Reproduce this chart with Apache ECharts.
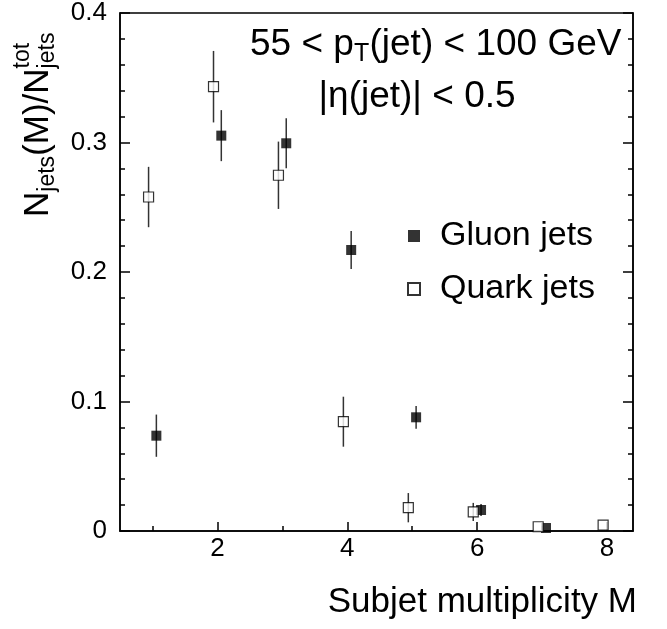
<!DOCTYPE html>
<html>
<head>
<meta charset="utf-8">
<script src="https://cdn.jsdelivr.net/npm/echarts@6/dist/echarts.min.js"></script>
<style>
html,body{margin:0;padding:0;background:#fff;}
#chart{width:667px;height:629px;}
</style>
</head>
<body>
<div id="chart"></div>
<script>
// ---- data ----
const gluonM   = [1, 2, 3, 4, 5, 6, 7];
const gluonVal = [0.0736, 0.3053, 0.2994, 0.2170, 0.0878, 0.0162, 0.0023];
const gluonErr = [0.0163, 0.0197, 0.0193, 0.0146, 0.0088, 0.0046, 0.0];
const quarkM   = [1, 2, 3, 4, 5, 6, 7, 8];
const quarkVal = [0.2579, 0.3431, 0.2747, 0.0844, 0.0180, 0.0147, 0.0033, 0.0046];
const quarkErr = [0.0233, 0.0276, 0.0260, 0.0193, 0.0113, 0.0070, 0.0, 0.0];
const xMajorTicks = [2, 4, 6, 8];
const xMinorTicks = [1, 3, 5, 7];
const yTicks = [0, 0.1, 0.2, 0.3, 0.4];

const FONT = "'Liberation Sans', Arial, sans-serif";
const shift = 0.06; // horizontal displacement of the two samples

const gluonPts = gluonM.map((m, i) => [m + shift, gluonVal[i]]);
const quarkPts = quarkM.map((m, i) => [m - shift, quarkVal[i]]);
const gluonBars = gluonM.map((m, i) => [m + shift, gluonVal[i] - gluonErr[i], gluonVal[i] + gluonErr[i]]);
const quarkBars = quarkM.map((m, i) => [m - shift, quarkVal[i] - quarkErr[i], quarkVal[i] + quarkErr[i]]);

function errRender(params, api) {
  const x = api.value(0);
  const p1 = api.coord([x, api.value(1)]);
  const p2 = api.coord([x, api.value(2)]);
  return {
    type: 'line',
    shape: {x1: p1[0], y1: p1[1], x2: p2[0], y2: p2[1]},
    style: {stroke: '#333', lineWidth: 1.5}
  };
}

const axisCommonX = {
  type: 'value', min: 0.5, max: 8.4, position: 'bottom',
  splitLine: {show: false}
};

const yBase = {
  type: 'value', min: yTicks[0], max: yTicks[yTicks.length - 1], interval: 0.1,
  splitLine: {show: false},
  axisLine: {show: true, lineStyle: {color: '#000', width: 1.5}},
  axisTick: {show: true, inside: true, length: 10, lineStyle: {color: '#000', width: 1.5}},
  minorTick: {show: true, splitNumber: 5, length: 5, lineStyle: {color: '#000', width: 1.5}}
};

function txt(x, y, s, size, align) {
  return {type: 'text', x: x, y: y, z: 10,
    style: {text: s, fontSize: size, fontFamily: FONT, fill: '#000', align: align || 'left', verticalAlign: 'middle'}};
}

const chart = echarts.init(document.getElementById('chart'), null, {renderer: 'canvas'});
chart.setOption({
  animation: false,
  backgroundColor: '#fff',
  textStyle: {fontFamily: FONT},
  grid: {left: 120, right: 34, top: 13, bottom: 98, show: true, borderColor: '#000', borderWidth: 1.5, backgroundColor: 'transparent'},
  xAxis: [
    Object.assign({}, axisCommonX, {
      axisLine: {show: true, lineStyle: {color: '#000', width: 1.5}},
      axisTick: {show: true, inside: true, length: 9, customValues: xMajorTicks, lineStyle: {color: '#000', width: 1.5}},
      axisLabel: {customValues: xMajorTicks, fontSize: 26, color: '#000', margin: 5, fontFamily: FONT}
    }),
    Object.assign({}, axisCommonX, {
      axisLine: {show: false},
      axisTick: {show: true, inside: true, length: 5, customValues: xMinorTicks, lineStyle: {color: '#000', width: 1.5}},
      axisLabel: {show: false}
    })
  ],
  yAxis: [
    Object.assign({}, yBase, {
      position: 'left',
      axisLabel: {fontSize: 26, color: '#000', margin: 13, fontFamily: FONT}
    }),
    Object.assign({}, yBase, {
      position: 'right',
      axisLabel: {show: false}
    })
  ],
  legend: {
    left: 402, top: 211, orient: 'vertical',
    itemWidth: 12, itemHeight: 12, itemGap: 13,
    selectedMode: false,
    data: ['Gluon jets', 'Quark jets'],
    textStyle: {fontSize: 34, lineHeight: 40, color: '#000', fontFamily: FONT, padding: [0, 0, 0, 15]}
  },
  series: [
    {name: 'gErr', type: 'custom', renderItem: errRender, data: gluonBars, encode: {x: 0, y: [1, 2]}, z: 1, silent: true},
    {name: 'qErr', type: 'custom', renderItem: errRender, data: quarkBars, encode: {x: 0, y: [1, 2]}, z: 1, silent: true},
    {name: 'Gluon jets', type: 'scatter', symbol: 'rect', symbolSize: 10, data: gluonPts, z: 3,
      itemStyle: {color: '#000', borderColor: '#000', borderWidth: 0}},
    {name: 'Quark jets', type: 'scatter', symbol: 'rect', symbolSize: 10, data: quarkPts, z: 3,
      itemStyle: {color: '#fff', borderColor: '#000', borderWidth: 1.2}}
  ],
  graphic: [
    txt(250, 45, '55 < p', 37),
    txt(354, 54, 'T', 25),
    txt(369.5, 45, '(jet) < 100 GeV', 37),
    txt(417, 97, '|η(jet)| < 0.5', 37, 'center'),
    txt(637, 602, 'Subjet multiplicity M', 35, 'right'),
    {type: 'group', x: 38, y: 217, rotation: Math.PI / 2, z: 10,
      children: [
        txt(0, 0, 'N', 35),
        txt(25.3, 9.5, 'jets', 23),
        txt(61.1, 0, '(M)/N', 35),
        txt(148.6, 9.5, 'jets', 23),
        txt(148.6, -15, 'tot', 23)
      ]}
  ]
});
</script>
</body>
</html>
